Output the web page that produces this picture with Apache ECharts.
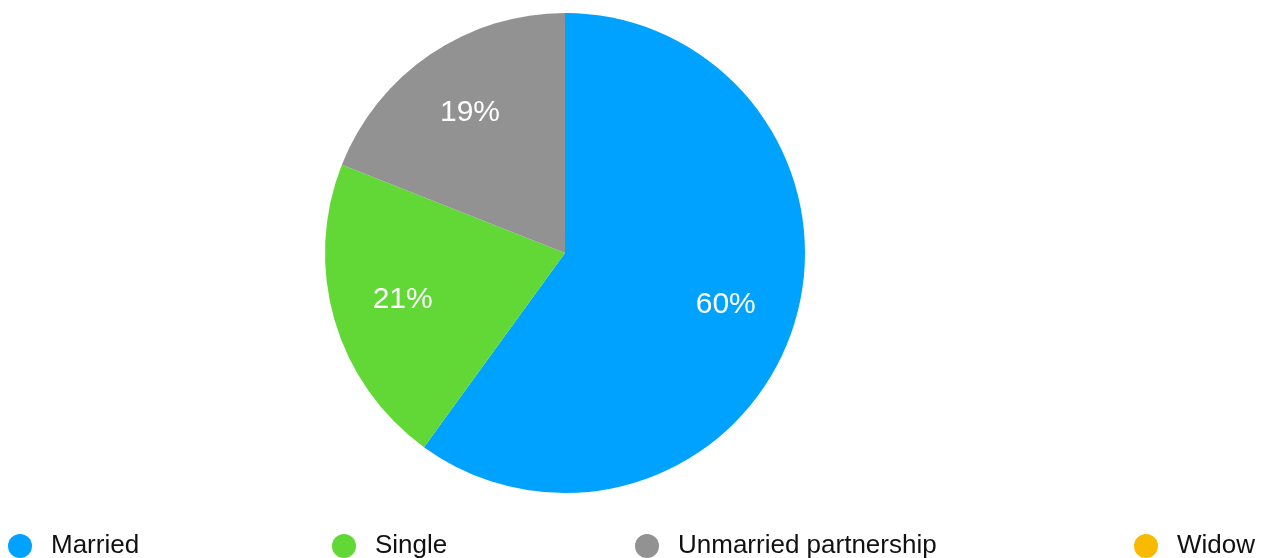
<!DOCTYPE html>
<html>
<head>
<meta charset="utf-8">
<style>
  html, body { margin: 0; padding: 0; background: #ffffff; }
  #chart { width: 1268px; height: 558px; }
</style>
<script src="https://cdn.jsdelivr.net/npm/echarts@6/dist/echarts.min.js"></script>
</head>
<body>
<div id="chart"></div>
<script>
// Marital status shares (percent)
const categories = ['Married', 'Single', 'Unmarried partnership', 'Widow'];
const shares = [60, 21, 19, 0];
const colors = ['#00A2FF', '#61D836', '#929292', '#F8BA00'];
const legendLefts = [8, 332, 635, 1134];

const FONT = '"Liberation Sans", Arial, Helvetica, sans-serif';

const pieData = categories.map((name, i) => ({
  name: name,
  value: shares[i],
  itemStyle: { color: colors[i] }
}));

const chart = echarts.init(document.getElementById('chart'), null, { renderer: 'canvas' });

chart.setOption({
  animation: false,
  backgroundColor: '#ffffff',
  color: colors,
  legend: categories.map((name, i) => ({
    data: [name],
    left: legendLefts[i],
    top: 533,
    padding: 0,
    icon: 'circle',
    itemWidth: 24,
    itemHeight: 24,
    selectedMode: false,
    textStyle: {
      fontFamily: FONT,
      fontSize: 26,
      color: '#111111',
      padding: [0, 0, 0, 14],
      lineHeight: 26
    }
  })),
  series: [
    {
      name: 'status',
      type: 'pie',
      center: [565, 253],
      radius: [0, 240],
      startAngle: 90,
      clockwise: true,
      stillShowZeroSum: true,
      silent: true,
      label: { show: false },
      labelLine: { show: false },
      emphasis: { disabled: true },
      data: pieData
    },
    {
      // label ring: transparent slices that carry the percentage text
      name: 'labels',
      type: 'pie',
      center: [565, 253],
      radius: [92, 240],
      startAngle: 90,
      clockwise: true,
      silent: true,
      itemStyle: { color: 'rgba(0,0,0,0)' },
      emphasis: { disabled: true },
      labelLine: { show: false },
      label: {
        show: true,
        position: 'inside',
        fontFamily: FONT,
        fontSize: 30,
        color: '#ffffff',
        formatter: p => (p.value > 0 ? p.value + '%' : '')
      },
      data: categories.map((name, i) => ({
        name: name,
        value: shares[i],
        itemStyle: { color: 'rgba(0,0,0,0)' }
      }))
    }
  ]
});
</script>
</body>
</html>
